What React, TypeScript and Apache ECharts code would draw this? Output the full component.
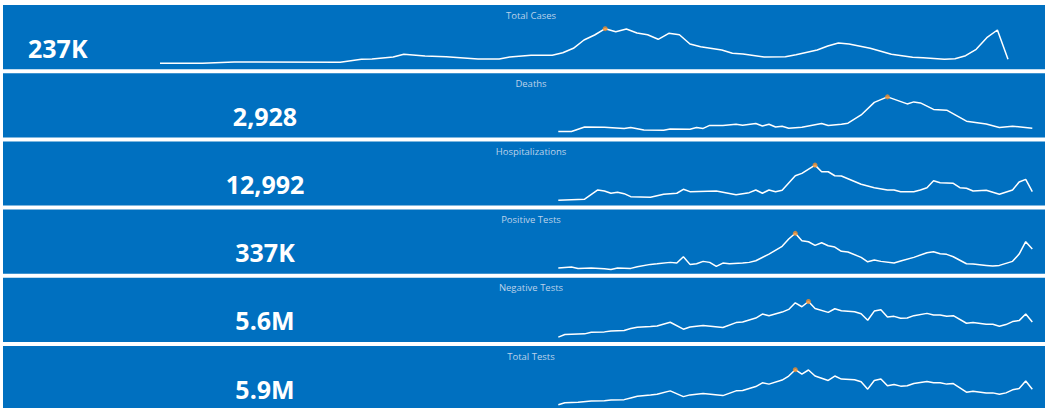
import React, { useEffect, useRef } from "react";
import * as echarts from "echarts";

const titles = ["Total Cases", "Deaths", "Hospitalizations", "Positive Tests", "Negative Tests", "Total Tests"];
const totals = ["237K", "2,928", "12,992", "337K", "5.6M", "5.9M"];

const casesWeek = [0,4,7,9,17,19,20,22,23,25,27,30,32,33,35,37,38,39,40,41,42,43,44,45,46,47,48,49,50,51,53,54,55,57,59,60,62,63,64,65,67,69,71,72,74,75,76,77,78,79,80];
const casesValue = [1110,1110,1500,1500,1410,2310,2400,3000,3810,3300,3090,2400,2400,3000,3510,3510,4290,5610,8100,9600,11490,10590,11400,10200,9690,8310,10110,9690,6900,6090,5100,4110,3900,3000,3090,3690,5100,6300,7200,6900,5610,3810,2910,2790,2310,2490,3390,5310,8790,11100,2310];

const deathsWeek = [0,2,4,7,10,11,13,16,17,20,21,22,23,25,27,28,30,31,32,33,34,35,37,40,41,43,44,46,48,50,53,54,55,57,59,62,65,67,69,72];
const deathsValue = [15,15,33,32,27,31,21,20,25,24,31,27,39,39,44,40,47,37,44,33,36,28,32,47,39,44,48,81,131,153,125,133,129,103,100,56,45,31,36,28];

const hospWeek = [0,4,6,7,8,9,10,11,14,16,18,19,20,24,27,29,30,31,32,33,34,36,37,39,40,41,42,43,46,48,50,51,52,54,55,56,57,58,60,61,62,63,65,67,69,70,71,72];
const hospValue = [64,84,270,250,204,224,196,136,124,184,204,284,236,250,176,216,270,204,270,236,264,556,604,770,636,636,556,550,384,316,270,270,236,236,270,316,456,416,404,316,304,250,264,184,270,430,484,236];

const posWeek = [0,2,3,5,7,8,9,11,12,14,15,17,18,19,20,21,22,23,24,25,26,28,29,30,32,34,35,36,37,38,39,40,41,42,43,44,46,47,48,49,51,52,54,56,57,58,59,60,62,63,65,66,67,69,70,71,72];
const posValue = [1050,1350,960,1050,840,660,1050,960,1440,2160,2340,2760,2550,4440,2160,2340,3060,2760,1560,2550,2340,2550,2760,3240,5250,7560,9750,11460,9240,8940,7860,8640,7740,7350,6060,5850,4260,2940,3450,3060,2550,3150,4260,5640,5940,5340,5160,4440,2340,2250,1860,1650,1860,3060,5250,8940,6750];

const negWeek = [0,1,4,5,7,8,10,11,12,14,15,17,19,20,22,25,27,28,30,31,32,34,35,36,37,38,39,41,42,43,45,46,47,48,49,50,51,52,53,54,56,57,58,59,60,62,63,65,66,67,68,69,70,71,72];
const negValue = [6750,13250,15000,19250,20000,22500,23500,28500,31750,33500,35000,44250,26750,32500,36000,31000,43500,45000,55000,65000,61000,70000,76750,93500,83500,96750,79250,69250,78500,73500,71000,66000,49250,72500,76000,57500,59250,54250,55000,61000,66750,62500,62500,59250,61000,41750,43500,39250,39250,34250,38500,46000,48500,65000,45000];

const totWeek = [0,1,3,5,7,8,10,11,12,14,15,17,19,20,22,25,27,28,30,31,32,34,35,36,37,38,39,41,42,43,45,46,47,48,49,50,51,52,53,54,56,57,58,59,60,62,63,65,66,67,68,69,70,71,72];
const totValue = [8580,13780,14820,18200,18980,20800,21580,26000,30420,33800,35620,44200,29380,33800,37180,31980,44200,44980,55380,65000,61620,72020,82420,98800,87620,98020,82420,70980,82420,74620,72800,67600,48620,70980,74620,57200,60580,56420,57200,63180,68380,65000,65000,61620,63180,40820,43420,39000,39000,35620,39000,46800,50180,69420,48620];

const weekArrays = [casesWeek, deathsWeek, hospWeek, posWeek, negWeek, totWeek];
const valueArrays = [casesValue, deathsValue, hospValue, posValue, negValue, totValue];
const weekSpan = [80, 72, 72, 72, 72, 72];

const BLUE = "#0070c0";
const FONT = "'Open Sans', 'Noto Sans', sans-serif";

export default function App() {
  const ref = useRef<HTMLDivElement>(null);
  useEffect(() => {
    if (!ref.current) return;
    const chart = echarts.init(ref.current, undefined, { renderer: "svg" });
    const panelTop = (i: number) => 5 + 68.2 * i;
    const grids: any[] = [];
    const xAxes: any[] = [];
    const yAxes: any[] = [];
    const series: any[] = [];
    const graphics: any[] = [];
    titles.forEach((t, i) => {
      const top = panelTop(i);
      const first = i === 0;
      grids.push({
        left: first ? 160 : 558.3,
        width: first ? 848 : 474,
        top: top + 23.7,
        height: 38.3,
      });
      xAxes.push({ type: "value", gridIndex: i, min: 0, max: weekSpan[i], show: false });
      yAxes.push({ type: "value", gridIndex: i, min: 0, max: (v: any) => v.max, show: false });
      const weeks = weekArrays[i];
      const vals = valueArrays[i];
      const data = weeks.map((w, k) => [w, vals[k]]);
      let mi = 0;
      vals.forEach((v, k) => { if (v > vals[mi]) mi = k; });
      series.push({
        type: "line",
        xAxisIndex: i,
        yAxisIndex: i,
        data,
        showSymbol: false,
        silent: true,
        lineStyle: { color: "#ffffff", width: 1.5 },
        z: 3,
      });
      series.push({
        type: "scatter",
        xAxisIndex: i,
        yAxisIndex: i,
        data: [[weeks[mi], vals[mi]]],
        symbolSize: 5,
        silent: true,
        itemStyle: { color: "#f28e2b" },
        z: 4,
      });
      graphics.push({
        type: "rect",
        z: 0,
        silent: true,
        shape: { x: 3, y: top, width: 1042, height: 64.2 },
        style: { fill: BLUE },
      });
      graphics.push({
        type: "text",
        z: 5,
        silent: true,
        x: 531,
        y: top + 10,
        style: {
          text: t,
          fill: "#bcd2ea",
          fontSize: 9.5,
          fontFamily: FONT,
          textAlign: "center",
          textVerticalAlign: "middle",
        },
      });
      graphics.push({
        type: "text",
        z: 5,
        silent: true,
        x: first ? 28 : 265,
        y: top + 42.5,
        style: {
          text: totals[i],
          fill: "#ffffff",
          fontSize: 25,
          fontWeight: "bold",
          fontFamily: FONT,
          textAlign: first ? "left" : "center",
          textVerticalAlign: "middle",
        },
      });
    });
    chart.setOption({
      animation: false,
      backgroundColor: "#ffffff",
      grid: grids,
      xAxis: xAxes,
      yAxis: yAxes,
      series,
      graphic: { elements: graphics },
    });
    return () => chart.dispose();
  }, []);
  return (
    <div
      ref={ref}
      style={{ position: "fixed", left: 0, top: 0, width: 1047, height: 408, background: "#fff" }}
    />
  );
}
